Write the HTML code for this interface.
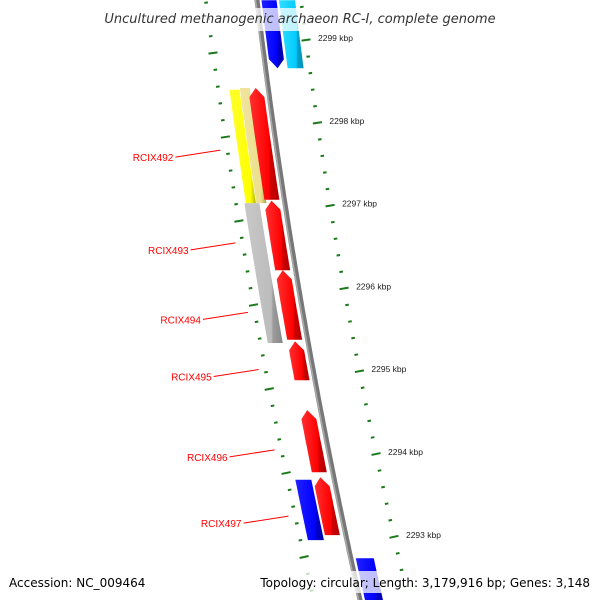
<!DOCTYPE html>
<html><head><meta charset="utf-8"><style>
html,body{margin:0;padding:0;background:#fff;}
svg{display:block;font-family:"Liberation Sans",sans-serif;}
</style></head><body>
<svg id="map" width="600" height="600" viewBox="0 0 600 600" xmlns="http://www.w3.org/2000/svg">
<defs>
<linearGradient id="g-red" x1="0" x2="1" y1="0" y2="0"><stop offset="0" stop-color="#ff3030"/><stop offset="0.65" stop-color="#ff0000"/><stop offset="0.7" stop-color="#d00000"/><stop offset="1" stop-color="#b00000"/></linearGradient>
<linearGradient id="g-blue" x1="0" x2="1" y1="0" y2="0"><stop offset="0" stop-color="#2020ff"/><stop offset="0.7" stop-color="#0000ff"/><stop offset="0.75" stop-color="#0000c8"/><stop offset="1" stop-color="#0000a8"/></linearGradient>
<linearGradient id="g-cyan" x1="0" x2="1" y1="0" y2="0"><stop offset="0" stop-color="#33ddff"/><stop offset="0.7" stop-color="#00ccff"/><stop offset="0.75" stop-color="#00a0cc"/><stop offset="1" stop-color="#0090b8"/></linearGradient>
<linearGradient id="g-yellow" x1="0" x2="1" y1="0" y2="0"><stop offset="0" stop-color="#ffff30"/><stop offset="0.8" stop-color="#ffff00"/><stop offset="1" stop-color="#b0b000"/></linearGradient>
<linearGradient id="g-khaki" x1="0" x2="1" y1="0" y2="0"><stop offset="0" stop-color="#f0e4a0"/><stop offset="0.8" stop-color="#ece08c"/><stop offset="1" stop-color="#a89c50"/></linearGradient>
<linearGradient id="g-gray" x1="0" x2="1" y1="0" y2="0"><stop offset="0" stop-color="#c8c8c8"/><stop offset="0.7" stop-color="#bcbcbc"/><stop offset="0.75" stop-color="#9a9a9a"/><stop offset="1" stop-color="#888"/></linearGradient>
</defs>
<g id="ticks"></g>
<path id="backbone" fill="none" stroke="#777" stroke-width="5"/>
<path id="backbone-hl" fill="none" stroke="#aaa" stroke-width="1.5"/>
<g id="genes"></g>
<g id="labels"></g>
<g id="kbp"></g>
<rect x="0" y="8" width="600" height="23" fill="#fff" opacity="0.75"/>
<text x="300" y="23" text-anchor="middle" font-size="13" font-style="italic" fill="#333" style="font-family:'DejaVu Sans',sans-serif">Uncultured methanogenic archaeon RC-I, complete genome</text>
<rect x="0" y="571" width="600" height="22" fill="#fff" opacity="0.75"/>
<text x="9" y="587" font-size="12" fill="#000" style="font-family:'DejaVu Sans',sans-serif">Accession: NC_009464</text>
<text x="590" y="587" text-anchor="end" font-size="12" fill="#000" style="font-family:'DejaVu Sans',sans-serif">Topology: circular; Length: 3,179,916 bp; Genes: 3,148</text>
</svg>
<script>
// data (kbp)
const geneNames  = ["blue-top","cyan-top","yellow","khaki","red-492","gray","red-493","red-494","red-495","red-496","blue-left","red-497","blue-bottom"];
const geneStart  = [2299.48,2299.48,2298.40,2298.42,2298.42,2297.03,2297.06,2296.22,2295.36,2294.53,2293.69,2293.72,2292.74];
const geneEnd    = [2298.66,2298.66,2297.03,2297.03,2297.07,2295.34,2296.22,2295.38,2294.89,2293.78,2292.96,2293.02,2292.20];
const geneColor  = ["blue","cyan","yellow","khaki","red","gray","red","red","red","red","blue","red","blue"];
const geneTrack  = [12,30,-34,-23.5,-12.5,-33,-13,-13,-13,-13.5,-31,-13.5,14];
const geneWidth  = [15,16,10,10,15,15,15,15,15,15,16,15,18];
const geneArrow  = ["end","none","none","none","start","none","start","start","start","start","none","start","none"];
const tickMajors = [2299,2298,2297,2296,2295,2294,2293];
const tickLabels = ["2299 kbp","2298 kbp","2297 kbp","2296 kbp","2295 kbp","2294 kbp","2293 kbp"];
const labelNames = ["RCIX492","RCIX493","RCIX494","RCIX495","RCIX496","RCIX497"];
const labelKbp   = [2297.67,2296.55,2295.71,2295.02,2294.05,2293.25];

const NS="http://www.w3.org/2000/svg";
const yOf = k => 40 + (2299 - k) * 82.8;
const yLeft = k => 53 + (2299 - k) * 84;
const bx = y => 257 + 0.1198*y + 0.0000864*y*y;
const rx = y => 306 + 0.1295*(y-40) + 0.0000958*(y-40)*(y-40);
const rs = y => 0.1295 + 2*0.0000958*(y-40);
const lx = y => 213 + 0.1406*(y-53) + 0.0000797*(y-53)*(y-53);
const ls = y => 0.1406 + 2*0.0000797*(y-53);
function mk(t,a,p){const e=document.createElementNS(NS,t);for(const k in a)e.setAttribute(k,a[k]);p.appendChild(e);return e;}

let d="";for(let y=-5;y<=605;y+=5){d+=(y<0?"M":"L")+bx(y).toFixed(1)+","+y+" ";}
document.getElementById("backbone").setAttribute("d",d);
let d2="";for(let y=-5;y<=605;y+=5){d2+=(y<0?"M":"L")+(bx(y)-1.5).toFixed(1)+","+y+" ";}
document.getElementById("backbone-hl").setAttribute("d",d2);

const tg=document.getElementById("ticks");
function tick(x,y,s,l,name){
  const e=mk("line",{x1:x-l/2,y1:y+s*l/2,x2:x+l/2,y2:y-s*l/2,stroke:"#1a7a1a","stroke-width":2},tg);
  
  
}
for(let i=-5;i<=40;i++){
  const k=2299.8-i*0.2;const major=Math.abs(k-Math.round(k))<0.01;
  const y=yOf(k); if(y>-5&&y<605) tick(rx(y),y,rs(y),major?9:3.5,major?"major-tick-outer":"minor-tick-outer");
  const y2=yLeft(k); if(y2>-5&&y2<605) tick(lx(y2),y2,ls(y2),major?9:3.5,major?"major-tick-inner":"minor-tick-inner");
}
const kg=document.getElementById("kbp");
tickMajors.forEach((k,i)=>{const y=yOf(k);
  const t=mk("text",{x:rx(y)+12,y:y+1,"font-size":"8.5",fill:"#222"},kg);t.textContent=tickLabels[i];
  
  
});

const gg=document.getElementById("genes");
geneNames.forEach((n,i)=>{
  const y1=yOf(geneStart[i]), y2=yOf(geneEnd[i]); const off=geneTrack[i], w=geneWidth[i];
  const A=9; const L=[],R=[];
  const top=geneArrow[i]==="start"?y1+A:y1, bot=geneArrow[i]==="end"?y2-A:y2;
  for(let s=0;s<=8;s++){const y=top+(bot-top)*s/8;const c=bx(y)+off;L.push([c-w/2,y]);R.push([c+w/2,y]);}
  let pts=[];
  if(geneArrow[i]==="start"){pts.push([bx(y1)+off,y1]);}
  pts=pts.concat(R);
  if(geneArrow[i]==="end"){pts.push([bx(y2)+off,y2]);}
  pts=pts.concat(L.reverse());
  const p=mk("polygon",{points:pts.map(q=>q[0].toFixed(1)+","+q[1].toFixed(1)).join(" "),fill:"url(#g-"+geneColor[i]+")"},gg);
  
  
});

const lg=document.getElementById("labels");
labelNames.forEach((n,i)=>{const y=yOf(labelKbp[i]); const xe=lx(y+6)-8;
  const l=mk("line",{x1:xe-45,y1:y+7,x2:xe,y2:y,stroke:"#f00","stroke-width":1},lg);
  
  
  const t=mk("text",{x:xe-47,y:y+11,"text-anchor":"end","font-size":"10",fill:"#f00"},lg);t.textContent=n;
  
  
});
</script>
</body></html>
